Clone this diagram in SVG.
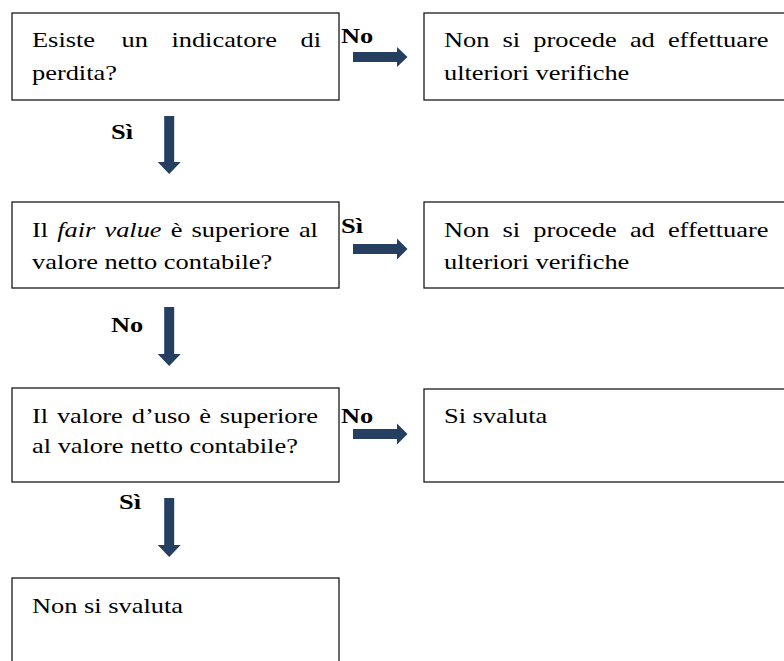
<svg xmlns="http://www.w3.org/2000/svg" width="784" height="661" viewBox="0 0 784 661">
<style>
.box{fill:#fff;stroke:#1a1a1a;stroke-width:1.3}
.t{font-family:"Liberation Serif","Times New Roman",serif;font-size:22px;fill:#000}
.lb{font-family:"Liberation Serif","Times New Roman",serif;font-size:22px;font-weight:bold;fill:#000}
.ar{fill:#253f61}
</style>
<rect width="784" height="661" fill="#fff"/>
<g id="n1">
<rect class="box" x="12" y="13" width="327" height="87"/>
<text class="t" transform="scale(1.2 1)" y="47"><tspan x="26.67">Esiste</tspan><tspan x="101.25">un</tspan><tspan x="142.83">indicatore</tspan><tspan x="250.42">di</tspan></text>
<text class="t" transform="scale(1.2 1)" x="26.67" y="80">perdita?</text>
</g>
<g id="r1">
<rect class="box" x="424" y="13" width="370" height="87"/>
<text class="t" transform="scale(1.2 1)" y="47"><tspan x="370">Non</tspan><tspan x="418.81">si</tspan><tspan x="444.37">procede</tspan><tspan x="524.93">ad</tspan><tspan x="556.57">effettuare</tspan></text>
<text class="t" transform="scale(1.2 1)" x="370" y="80">ulteriori verifiche</text>
</g>
<g id="n2">
<rect class="box" x="12" y="202" width="327" height="86"/>
<text class="t" transform="scale(1.2 1)" y="237"><tspan x="26.67">Il</tspan><tspan x="47.68" font-style="italic">fair</tspan><tspan x="87.03" font-style="italic">value</tspan><tspan x="142.3">è</tspan><tspan x="159.65">superiore</tspan><tspan x="249.08">al</tspan></text>
<text class="t" transform="scale(1.2 1)" x="26.67" y="269">valore netto contabile?</text>
</g>
<g id="r2">
<rect class="box" x="424" y="202" width="370" height="86"/>
<text class="t" transform="scale(1.2 1)" y="237"><tspan x="370">Non</tspan><tspan x="418.81">si</tspan><tspan x="444.37">procede</tspan><tspan x="524.93">ad</tspan><tspan x="556.57">effettuare</tspan></text>
<text class="t" transform="scale(1.2 1)" x="370" y="269">ulteriori verifiche</text>
</g>
<g id="n3">
<rect class="box" x="12" y="388" width="327" height="94"/>
<text class="t" transform="scale(1.2 1)" y="423"><tspan x="26.67">Il</tspan><tspan x="47.44">valore</tspan><tspan x="109.8">d’uso</tspan><tspan x="166.08">è</tspan><tspan x="183.18">superiore</tspan></text>
<text class="t" transform="scale(1.2 1)" x="26.67" y="453">al valore netto contabile?</text>
</g>
<g id="r3">
<rect class="box" x="424" y="389" width="370" height="93"/>
<text class="t" transform="scale(1.2 1)" x="370" y="423">Si svaluta</text>
</g>
<g id="n4">
<rect class="box" x="12" y="578" width="327" height="100"/>
<text class="t" transform="scale(1.2 1)" x="26.67" y="613">Non si svaluta</text>
</g>
<g id="connectors">
<polygon class="ar" points="353,52 397,52 397,47 407.5,57 397,67 397,62 353,62"/>
<polygon class="ar" points="353,244 397,244 397,238.5 407.5,249 397,259.5 397,254 353,254"/>
<polygon class="ar" points="353,429 397,429 397,423.5 407.5,434 397,444.5 397,439 353,439"/>
<polygon class="ar" points="164.2,116 174.2,116 174.2,162 180.7,162 169.2,174 157.7,162 164.2,162"/>
<polygon class="ar" points="164.2,307 174.2,307 174.2,354 180.7,354 169.2,366 157.7,354 164.2,354"/>
<polygon class="ar" points="164.2,498 174.2,498 174.2,545 180.7,545 169.2,557 157.7,545 164.2,545"/>
<text class="lb" transform="scale(1.2 1)" x="284.17" y="43">No</text>
<text class="lb" transform="scale(1.2 1)" x="92.5" y="139">Sì</text>
<text class="lb" transform="scale(1.2 1)" x="284.17" y="233">Sì</text>
<text class="lb" transform="scale(1.2 1)" x="92.5" y="332">No</text>
<text class="lb" transform="scale(1.2 1)" x="284.17" y="423">No</text>
<text class="lb" transform="scale(1.2 1)" x="99.17" y="509">Sì</text>
</g>
</svg>
